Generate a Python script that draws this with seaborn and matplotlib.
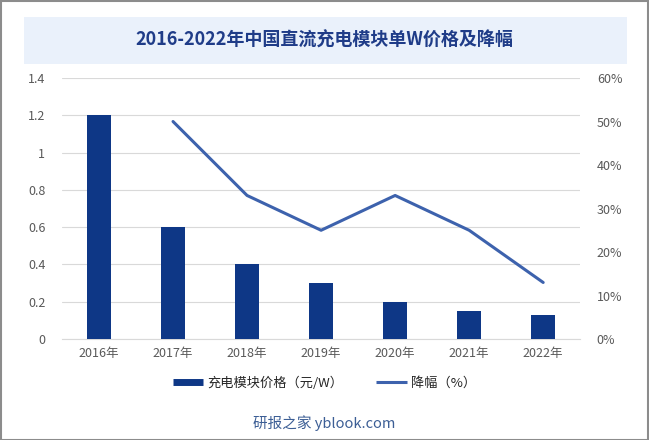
import numpy as np
import pandas as pd
import matplotlib
matplotlib.use("Agg")
import matplotlib.pyplot as plt
import seaborn as sns
from matplotlib.patches import Rectangle
from matplotlib.lines import Line2D

years = ["2016年", "2017年", "2018年", "2019年", "2020年", "2021年", "2022年"]
prices = [1.2, 0.6, 0.4, 0.3, 0.2, 0.15, 0.13]
declines = [np.nan, 50, 33, 25, 33, 25, 13]
left_ticks = [0, 0.2, 0.4, 0.6, 0.8, 1, 1.2, 1.4]
left_labels = ["0", "0.2", "0.4", "0.6", "0.8", "1", "1.2", "1.4"]
right_ticks = [0, 10, 20, 30, 40, 50, 60]
right_labels = ["0%", "10%", "20%", "30%", "40%", "50%", "60%"]
title = "2016-2022年中国直流充电模块单W价格及降幅"
bar_label = "充电模块价格（元/W）"
line_label = "降幅（%）"
watermark = "研报之家 yblook.com"

sns.set_theme(style="white")
plt.rcParams['font.family'] = ['Noto Sans CJK SC', 'DejaVu Sans']

bar_color = "#0E3786"
line_color = "#3D62AD"
tick_color = "#595959"
grid_color = "#D9D9D9"

df = pd.DataFrame({"year": years, "price": prices, "decline": declines,
                   "pos": np.arange(len(years))})

fig = plt.figure(figsize=(6.49, 4.40), dpi=100)
ax = fig.add_axes([0.0955, 0.2295, 0.7985, 0.5932])

sns.barplot(data=df, x="year", y="price", color=bar_color, width=0.33,
            saturation=1, linewidth=0, edgecolor="none", ax=ax, zorder=3)
ax.set_ylim(0, 1.4)
ax.set_yticks(left_ticks)
ax.set_yticklabels(left_labels)
ax.set_xlim(-0.5, len(years) - 0.5)
ax.grid(axis="y", color=grid_color, lw=0.8, zorder=0)
ax.set_axisbelow(True)
ax.set_xlabel("")
ax.set_ylabel("")
for s in ax.spines.values():
    s.set_visible(False)
ax.spines["bottom"].set_visible(True)
ax.spines["bottom"].set_color(grid_color)
ax.spines["bottom"].set_linewidth(0.8)
ax.tick_params(axis="both", length=0, labelsize=9, colors=tick_color)
ax.tick_params(axis="y", pad=12)
ax.tick_params(axis="x", pad=6)

ax2 = ax.twinx()
sns.lineplot(data=df, x="pos", y="decline", color=line_color, lw=2.2, ax=ax2)
ax2.set_ylim(0, 60)
ax2.set_yticks(right_ticks)
ax2.set_yticklabels(right_labels)
ax2.set_xlim(-0.5, len(years) - 0.5)
ax2.set_xlabel("")
ax2.set_ylabel("")
for s in ax2.spines.values():
    s.set_visible(False)
ax2.tick_params(axis="y", length=0, labelsize=9, colors=tick_color, pad=12)

# title box
fig.patches.append(Rectangle((24 / 649, 1 - 64 / 440), 603 / 649, 47 / 440,
                             transform=fig.transFigure, facecolor="#EAF1FB",
                             edgecolor="none", zorder=0))
fig.text(0.5, 1 - 40 / 440, title, ha="center", va="center", fontsize=13,
         fontweight="bold", color="#1F3C88")

# legend
handles = [Line2D([0], [0], color=bar_color, lw=5, solid_capstyle="butt"),
           Line2D([0], [0], color=line_color, lw=2.2, solid_capstyle="butt")]
fig.legend(handles, [bar_label, line_label], loc="center",
           bbox_to_anchor=(0.5, 1 - 383 / 440), ncol=2, frameon=False,
           fontsize=9.5, handlelength=2.3, handletextpad=0.3, columnspacing=2.5)

fig.text(0.5, 1 - 423 / 440, watermark, ha="center", va="center",
         fontsize=10.5, color="#3C5E95")

# border
fig.patches.append(Rectangle((0.001, 0.001), 0.997, 0.997, transform=fig.transFigure,
                             facecolor="none", edgecolor="#8C8C8C", lw=1.5))

fig.savefig("out.png", dpi=100)
